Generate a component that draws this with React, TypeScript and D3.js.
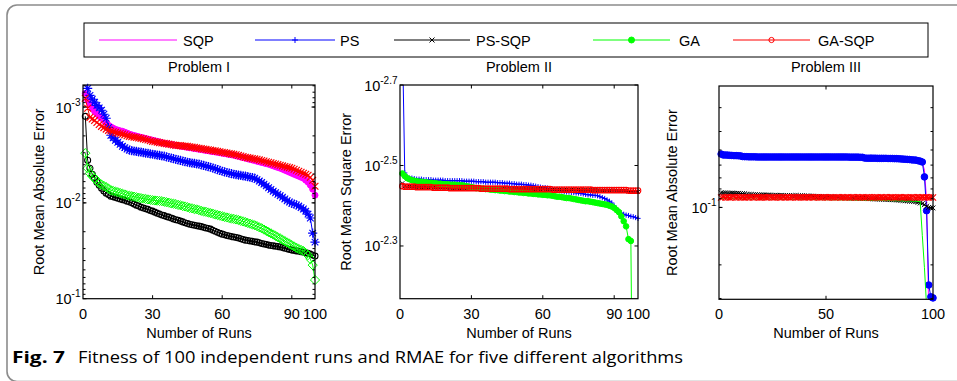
import React from 'react';
import * as d3 from 'd3';

// ---------------- DATA ----------------
const RUNS = d3.range(1, 101);
const ALGOS = ['SQP', 'PS', 'PS-SQP', 'GA', 'GA-SQP'];
const COLORS = ['#ff00ff', '#0000ff', '#000000', '#00ff00', '#ff0000'];
const TITLES = ['Problem I', 'Problem II', 'Problem III'];
const YLABELS = ['Root Mean Absolute Error', 'Root Mean Square Error', 'Root Mean Absolute Error'];
const XLABEL = 'Number of Runs';
const XTICKS_1 = [0, 30, 60, 90, 100];
const XTICKS_2 = [0, 30, 60, 90, 100];
const XTICKS_3 = [0, 50, 100];
const YTICK_EXP_1 = [-3, -2, -1];
const YTICK_EXP_2 = [-2.7, -2.5, -2.3];
const YTICK_EXP_3 = [-1];
const YDOMAIN_EXP_1 = [-3.23, -1];
const YDOMAIN_EXP_2 = [-2.7, -2.169];
const YDOMAIN_3 = [0.0231, 0.303];
const CAPTION_BOLD = 'Fig. 7';
const CAPTION = 'Fitness of 100 independent runs and RMAE for five different algorithms';

// Problem I
const P1_SQP = [7.2e-4,8.5e-4,9.4e-4,1.03e-3,1.11e-3,1.18e-3,1.25e-3,1.31e-3,1.39e-3,1.47e-3,
1.55e-3,1.61e-3,1.66e-3,1.71e-3,1.74e-3,1.77e-3,1.79e-3,1.83e-3,1.87e-3,1.92e-3,
1.95e-3,1.98e-3,2.01e-3,2.04e-3,2.07e-3,2.10e-3,2.13e-3,2.16e-3,2.19e-3,2.22e-3,
2.25e-3,2.28e-3,2.32e-3,2.35e-3,2.39e-3,2.41e-3,2.43e-3,2.46e-3,2.48e-3,2.51e-3,
2.53e-3,2.56e-3,2.58e-3,2.61e-3,2.63e-3,2.66e-3,2.68e-3,2.71e-3,2.73e-3,2.76e-3,
2.78e-3,2.81e-3,2.84e-3,2.86e-3,2.89e-3,2.92e-3,2.94e-3,2.97e-3,3.00e-3,3.03e-3,
3.06e-3,3.09e-3,3.12e-3,3.15e-3,3.18e-3,3.23e-3,3.27e-3,3.32e-3,3.37e-3,3.42e-3,
3.47e-3,3.52e-3,3.57e-3,3.62e-3,3.68e-3,3.73e-3,3.79e-3,3.84e-3,3.90e-3,3.95e-3,
4.03e-3,4.11e-3,4.19e-3,4.27e-3,4.35e-3,4.45e-3,4.56e-3,4.67e-3,4.79e-3,4.91e-3,
5.03e-3,5.15e-3,5.27e-3,5.40e-3,5.53e-3,5.80e-3,6.08e-3,6.54e-3,7.20e-3,8.32e-3];
const P1_PS = [5.66e-4,6.38e-4,7.55e-4,8.3e-4,8.9e-4,9.6e-4,1.02e-3,1.08e-3,1.19e-3,1.31e-3,
1.63e-3,1.97e-3,2.10e-3,2.22e-3,2.33e-3,2.45e-3,2.57e-3,2.65e-3,2.74e-3,2.82e-3,
2.85e-3,2.88e-3,2.90e-3,2.93e-3,2.96e-3,2.99e-3,3.02e-3,3.05e-3,3.08e-3,3.11e-3,
3.14e-3,3.17e-3,3.20e-3,3.23e-3,3.26e-3,3.31e-3,3.36e-3,3.41e-3,3.46e-3,3.51e-3,
3.56e-3,3.61e-3,3.66e-3,3.71e-3,3.77e-3,3.80e-3,3.84e-3,3.88e-3,3.91e-3,3.95e-3,
4.01e-3,4.07e-3,4.13e-3,4.19e-3,4.25e-3,4.33e-3,4.41e-3,4.50e-3,4.59e-3,4.68e-3,
4.75e-3,4.82e-3,4.89e-3,4.96e-3,5.03e-3,5.08e-3,5.13e-3,5.17e-3,5.22e-3,5.27e-3,
5.33e-3,5.40e-3,5.46e-3,5.53e-3,5.72e-3,5.92e-3,6.14e-3,6.38e-3,6.65e-3,6.95e-3,
7.25e-3,7.55e-3,7.84e-3,8.13e-3,8.43e-3,8.73e-3,9.1e-3,9.5e-3,9.8e-3,1.01e-2,
1.03e-2,1.05e-2,1.08e-2,1.12e-2,1.16e-2,1.22e-2,1.31e-2,1.44e-2,2.07e-2,2.57e-2];
const P1_PSSQP = [1.25e-3,3.59e-3,4.35e-3,5.03e-3,5.53e-3,6.08e-3,6.55e-3,7.03e-3,7.5e-3,7.92e-3,
8.2e-3,8.51e-3,8.65e-3,8.8e-3,8.93e-3,9.1e-3,9.25e-3,9.4e-3,9.6e-3,9.8e-3,
1.0e-2,1.03e-2,1.06e-2,1.08e-2,1.11e-2,1.13e-2,1.15e-2,1.17e-2,1.20e-2,1.22e-2,
1.25e-2,1.28e-2,1.31e-2,1.34e-2,1.36e-2,1.39e-2,1.41e-2,1.44e-2,1.47e-2,1.50e-2,
1.52e-2,1.55e-2,1.58e-2,1.61e-2,1.64e-2,1.67e-2,1.69e-2,1.71e-2,1.73e-2,1.75e-2,
1.77e-2,1.80e-2,1.83e-2,1.85e-2,1.88e-2,1.93e-2,1.98e-2,2.03e-2,2.08e-2,2.12e-2,
2.15e-2,2.19e-2,2.22e-2,2.25e-2,2.27e-2,2.30e-2,2.33e-2,2.37e-2,2.41e-2,2.45e-2,
2.47e-2,2.50e-2,2.52e-2,2.55e-2,2.57e-2,2.61e-2,2.65e-2,2.69e-2,2.72e-2,2.76e-2,
2.79e-2,2.81e-2,2.84e-2,2.86e-2,2.89e-2,2.93e-2,2.98e-2,3.02e-2,3.07e-2,3.11e-2,
3.14e-2,3.17e-2,3.20e-2,3.24e-2,3.27e-2,3.31e-2,3.36e-2,3.42e-2,3.50e-2,3.59e-2];
const P1_GA = [3.03e-3,4.35e-3,4.91e-3,5.27e-3,5.53e-3,5.9e-3,6.24e-3,6.45e-3,6.65e-3,6.86e-3,
7.1e-3,7.38e-3,7.5e-3,7.62e-3,7.74e-3,7.88e-3,8.02e-3,8.17e-3,8.32e-3,8.42e-3,
8.52e-3,8.62e-3,8.72e-3,8.83e-3,8.93e-3,9.02e-3,9.11e-3,9.2e-3,9.29e-3,9.38e-3,
9.44e-3,9.49e-3,9.55e-3,9.6e-3,9.72e-3,9.84e-3,9.96e-3,1.01e-2,1.02e-2,1.03e-2,
1.05e-2,1.06e-2,1.08e-2,1.09e-2,1.11e-2,1.13e-2,1.14e-2,1.16e-2,1.17e-2,1.19e-2,
1.21e-2,1.23e-2,1.24e-2,1.26e-2,1.28e-2,1.30e-2,1.32e-2,1.34e-2,1.36e-2,1.38e-2,
1.40e-2,1.42e-2,1.44e-2,1.46e-2,1.47e-2,1.49e-2,1.51e-2,1.54e-2,1.56e-2,1.59e-2,
1.62e-2,1.65e-2,1.68e-2,1.71e-2,1.75e-2,1.80e-2,1.84e-2,1.90e-2,1.96e-2,2.02e-2,
2.08e-2,2.14e-2,2.21e-2,2.28e-2,2.35e-2,2.43e-2,2.51e-2,2.59e-2,2.67e-2,2.76e-2,
2.85e-2,2.94e-2,3.03e-2,3.10e-2,3.18e-2,3.34e-2,3.51e-2,3.86e-2,4.46e-2,6.38e-2];
const P1_GASQP = [8.1e-4,1.03e-3,1.28e-3,1.33e-3,1.38e-3,1.45e-3,1.52e-3,1.59e-3,1.64e-3,1.70e-3,
1.75e-3,1.78e-3,1.81e-3,1.84e-3,1.87e-3,1.89e-3,1.92e-3,1.95e-3,1.99e-3,2.02e-3,
2.04e-3,2.06e-3,2.08e-3,2.10e-3,2.12e-3,2.15e-3,2.18e-3,2.21e-3,2.25e-3,2.28e-3,
2.30e-3,2.32e-3,2.35e-3,2.37e-3,2.39e-3,2.41e-3,2.44e-3,2.46e-3,2.49e-3,2.51e-3,
2.52e-3,2.53e-3,2.55e-3,2.56e-3,2.57e-3,2.60e-3,2.62e-3,2.64e-3,2.67e-3,2.69e-3,
2.72e-3,2.74e-3,2.77e-3,2.79e-3,2.82e-3,2.85e-3,2.87e-3,2.90e-3,2.93e-3,2.96e-3,
2.99e-3,3.02e-3,3.05e-3,3.08e-3,3.11e-3,3.15e-3,3.20e-3,3.24e-3,3.29e-3,3.34e-3,
3.37e-3,3.41e-3,3.44e-3,3.48e-3,3.51e-3,3.56e-3,3.61e-3,3.66e-3,3.72e-3,3.77e-3,
3.82e-3,3.88e-3,3.93e-3,3.99e-3,4.05e-3,4.11e-3,4.17e-3,4.23e-3,4.29e-3,4.35e-3,
4.46e-3,4.57e-3,4.68e-3,4.79e-3,4.91e-3,5.03e-3,5.15e-3,5.40e-3,5.81e-3,6.70e-3];

// Problem II
const P2_SQP = [3.57e-3,3.57e-3,3.57e-3,3.58e-3,3.58e-3,3.58e-3,3.58e-3,3.58e-3,3.58e-3,3.59e-3,
3.59e-3,3.59e-3,3.59e-3,3.59e-3,3.59e-3,3.60e-3,3.60e-3,3.60e-3,3.60e-3,3.60e-3,
3.60e-3,3.60e-3,3.60e-3,3.60e-3,3.61e-3,3.61e-3,3.61e-3,3.61e-3,3.61e-3,3.61e-3,
3.61e-3,3.61e-3,3.61e-3,3.61e-3,3.62e-3,3.62e-3,3.62e-3,3.62e-3,3.62e-3,3.62e-3,
3.62e-3,3.62e-3,3.62e-3,3.62e-3,3.62e-3,3.62e-3,3.63e-3,3.63e-3,3.63e-3,3.63e-3,
3.63e-3,3.63e-3,3.63e-3,3.63e-3,3.63e-3,3.63e-3,3.63e-3,3.63e-3,3.63e-3,3.63e-3,
3.63e-3,3.63e-3,3.63e-3,3.64e-3,3.64e-3,3.64e-3,3.64e-3,3.64e-3,3.64e-3,3.64e-3,
3.64e-3,3.64e-3,3.64e-3,3.64e-3,3.64e-3,3.64e-3,3.64e-3,3.64e-3,3.65e-3,3.65e-3,
3.65e-3,3.65e-3,3.65e-3,3.65e-3,3.65e-3,3.65e-3,3.65e-3,3.65e-3,3.65e-3,3.65e-3,
3.65e-3,3.65e-3,3.66e-3,3.66e-3,3.66e-3,3.66e-3,3.66e-3,3.66e-3,3.66e-3,3.66e-3];
const P2_PS = [1.5e-3,3.30e-3,3.38e-3,3.40e-3,3.40e-3,3.41e-3,3.42e-3,3.42e-3,3.42e-3,3.43e-3,
3.43e-3,3.43e-3,3.43e-3,3.44e-3,3.44e-3,3.44e-3,3.44e-3,3.44e-3,3.45e-3,3.45e-3,
3.45e-3,3.45e-3,3.45e-3,3.45e-3,3.45e-3,3.45e-3,3.46e-3,3.46e-3,3.46e-3,3.46e-3,
3.46e-3,3.47e-3,3.47e-3,3.47e-3,3.47e-3,3.48e-3,3.48e-3,3.48e-3,3.48e-3,3.48e-3,
3.49e-3,3.49e-3,3.49e-3,3.50e-3,3.50e-3,3.50e-3,3.51e-3,3.51e-3,3.52e-3,3.52e-3,
3.52e-3,3.53e-3,3.53e-3,3.54e-3,3.54e-3,3.55e-3,3.56e-3,3.57e-3,3.58e-3,3.59e-3,
3.59e-3,3.60e-3,3.61e-3,3.62e-3,3.63e-3,3.64e-3,3.65e-3,3.66e-3,3.67e-3,3.68e-3,
3.68e-3,3.69e-3,3.69e-3,3.70e-3,3.70e-3,3.71e-3,3.72e-3,3.73e-3,3.74e-3,3.74e-3,
3.75e-3,3.75e-3,3.76e-3,3.78e-3,3.80e-3,3.82e-3,3.85e-3,3.88e-3,3.92e-3,3.99e-3,
4.06e-3,4.12e-3,4.15e-3,4.18e-3,4.20e-3,4.21e-3,4.23e-3,4.24e-3,4.26e-3,4.28e-3];
const P2_PSSQP = [3.50e-3,3.56e-3,3.57e-3,3.57e-3,3.57e-3,3.57e-3,3.58e-3,3.58e-3,3.58e-3,3.58e-3,
3.58e-3,3.58e-3,3.58e-3,3.59e-3,3.59e-3,3.59e-3,3.59e-3,3.59e-3,3.59e-3,3.59e-3,
3.60e-3,3.60e-3,3.60e-3,3.60e-3,3.60e-3,3.60e-3,3.60e-3,3.60e-3,3.60e-3,3.60e-3,
3.60e-3,3.60e-3,3.60e-3,3.61e-3,3.61e-3,3.61e-3,3.61e-3,3.61e-3,3.61e-3,3.61e-3,
3.61e-3,3.61e-3,3.61e-3,3.61e-3,3.61e-3,3.62e-3,3.62e-3,3.62e-3,3.62e-3,3.62e-3,
3.62e-3,3.62e-3,3.62e-3,3.62e-3,3.62e-3,3.62e-3,3.62e-3,3.62e-3,3.62e-3,3.62e-3,
3.63e-3,3.63e-3,3.63e-3,3.63e-3,3.63e-3,3.63e-3,3.63e-3,3.63e-3,3.63e-3,3.63e-3,
3.63e-3,3.63e-3,3.63e-3,3.63e-3,3.63e-3,3.64e-3,3.64e-3,3.64e-3,3.64e-3,3.64e-3,
3.64e-3,3.64e-3,3.64e-3,3.65e-3,3.65e-3,3.65e-3,3.65e-3,3.65e-3,3.65e-3,3.65e-3,
3.66e-3,3.66e-3,3.66e-3,3.66e-3,3.66e-3,3.67e-3,3.67e-3,3.68e-3,3.68e-3,3.68e-3];
const P2_GA = [3.31e-3,3.36e-3,3.40e-3,3.42e-3,3.44e-3,3.45e-3,3.46e-3,3.47e-3,3.47e-3,3.48e-3,
3.48e-3,3.49e-3,3.49e-3,3.50e-3,3.50e-3,3.51e-3,3.51e-3,3.52e-3,3.52e-3,3.52e-3,
3.53e-3,3.53e-3,3.53e-3,3.54e-3,3.54e-3,3.54e-3,3.55e-3,3.56e-3,3.57e-3,3.58e-3,
3.59e-3,3.60e-3,3.60e-3,3.61e-3,3.61e-3,3.62e-3,3.62e-3,3.63e-3,3.63e-3,3.64e-3,
3.64e-3,3.65e-3,3.65e-3,3.66e-3,3.66e-3,3.67e-3,3.67e-3,3.68e-3,3.68e-3,3.69e-3,
3.69e-3,3.70e-3,3.70e-3,3.71e-3,3.71e-3,3.72e-3,3.72e-3,3.73e-3,3.73e-3,3.74e-3,
3.74e-3,3.75e-3,3.75e-3,3.76e-3,3.77e-3,3.78e-3,3.78e-3,3.79e-3,3.80e-3,3.81e-3,
3.81e-3,3.82e-3,3.83e-3,3.84e-3,3.85e-3,3.86e-3,3.87e-3,3.88e-3,3.88e-3,3.89e-3,
3.90e-3,3.91e-3,3.92e-3,3.93e-3,3.94e-3,3.95e-3,3.96e-3,3.98e-3,4.00e-3,4.03e-3,
4.08e-3,4.13e-3,4.23e-3,4.35e-3,4.48e-3,4.82e-3,4.87e-3,2.0e-2,2.2e-2,2.4e-2];
const P2_GASQP = [3.56e-3,3.57e-3,3.57e-3,3.57e-3,3.57e-3,3.57e-3,3.58e-3,3.58e-3,3.58e-3,3.58e-3,
3.58e-3,3.58e-3,3.58e-3,3.59e-3,3.59e-3,3.59e-3,3.59e-3,3.59e-3,3.59e-3,3.59e-3,
3.60e-3,3.60e-3,3.60e-3,3.60e-3,3.60e-3,3.60e-3,3.60e-3,3.60e-3,3.60e-3,3.60e-3,
3.60e-3,3.60e-3,3.60e-3,3.61e-3,3.61e-3,3.61e-3,3.61e-3,3.61e-3,3.61e-3,3.61e-3,
3.61e-3,3.61e-3,3.61e-3,3.61e-3,3.61e-3,3.62e-3,3.62e-3,3.62e-3,3.62e-3,3.62e-3,
3.62e-3,3.62e-3,3.62e-3,3.62e-3,3.62e-3,3.62e-3,3.62e-3,3.62e-3,3.62e-3,3.62e-3,
3.62e-3,3.62e-3,3.62e-3,3.63e-3,3.63e-3,3.63e-3,3.63e-3,3.63e-3,3.63e-3,3.63e-3,
3.63e-3,3.63e-3,3.63e-3,3.63e-3,3.63e-3,3.63e-3,3.63e-3,3.63e-3,3.63e-3,3.63e-3,
3.64e-3,3.64e-3,3.64e-3,3.64e-3,3.64e-3,3.64e-3,3.64e-3,3.64e-3,3.64e-3,3.64e-3,
3.64e-3,3.64e-3,3.64e-3,3.64e-3,3.64e-3,3.65e-3,3.65e-3,3.65e-3,3.65e-3,3.65e-3];

// Problem III
const P3_SQP = [0.0525,0.0531,0.0531,0.0532,0.0533,0.0534,0.0535,0.0535,0.0536,0.0537,
0.0541,0.0542,0.0542,0.0543,0.0543,0.0543,0.0543,0.0544,0.0544,0.0544,
0.0544,0.0544,0.0544,0.0544,0.0544,0.0544,0.0544,0.0544,0.0544,0.0544,
0.0544,0.0544,0.0544,0.0544,0.0544,0.0544,0.0544,0.0544,0.0544,0.0544,
0.0544,0.0544,0.0544,0.0544,0.0544,0.0544,0.0544,0.0544,0.0544,0.0544,
0.0544,0.0544,0.0544,0.0544,0.0544,0.0544,0.0544,0.0544,0.0544,0.0544,
0.0545,0.0545,0.0545,0.0545,0.0545,0.0546,0.0546,0.0551,0.0552,0.0552,
0.0552,0.0552,0.0552,0.0553,0.0553,0.0553,0.0553,0.0553,0.0554,0.0554,
0.0554,0.0555,0.0555,0.0556,0.0557,0.0558,0.0559,0.0560,0.0561,0.0563,
0.0564,0.0565,0.0569,0.0573,0.0580,0.0638,0.0914,0.35,0.36,0.37];
const P3_PS = [0.0525,0.0531,0.0531,0.0532,0.0533,0.0534,0.0535,0.0535,0.0536,0.0537,
0.0541,0.0542,0.0542,0.0543,0.0543,0.0543,0.0543,0.0544,0.0544,0.0544,
0.0544,0.0544,0.0544,0.0544,0.0544,0.0544,0.0544,0.0544,0.0544,0.0544,
0.0544,0.0544,0.0544,0.0544,0.0544,0.0544,0.0544,0.0544,0.0544,0.0544,
0.0544,0.0544,0.0544,0.0544,0.0544,0.0544,0.0544,0.0544,0.0544,0.0544,
0.0544,0.0544,0.0544,0.0544,0.0544,0.0544,0.0544,0.0544,0.0544,0.0544,
0.0545,0.0545,0.0545,0.0545,0.0545,0.0546,0.0546,0.0551,0.0552,0.0552,
0.0552,0.0552,0.0552,0.0553,0.0553,0.0553,0.0553,0.0553,0.0554,0.0554,
0.0554,0.0555,0.0555,0.0556,0.0557,0.0558,0.0559,0.0560,0.0561,0.0563,
0.0564,0.0565,0.0569,0.0572,0.0578,0.0692,0.104,0.255,0.294,0.298];
const P3_PSSQP = [0.0838,0.0840,0.0839,0.0841,0.0842,0.0841,0.0843,0.0844,0.0843,0.0845,
0.0846,0.0848,0.0855,0.0856,0.0856,0.0858,0.0857,0.0859,0.0860,0.0859,
0.0861,0.0862,0.0861,0.0862,0.0864,0.0863,0.0864,0.0865,0.0864,0.0866,
0.0866,0.0867,0.0866,0.0868,0.0868,0.0867,0.0869,0.0870,0.0869,0.0871,
0.0871,0.0872,0.0873,0.0873,0.0875,0.0876,0.0876,0.0878,0.0879,0.0879,
0.0881,0.0882,0.0882,0.0884,0.0885,0.0885,0.0887,0.0888,0.0888,0.0890,
0.0891,0.0891,0.0893,0.0894,0.0894,0.0896,0.0897,0.0897,0.0899,0.0900,
0.0900,0.0902,0.0903,0.0903,0.0905,0.0906,0.0906,0.0908,0.0909,0.0910,
0.0911,0.0912,0.0914,0.0915,0.0918,0.0919,0.0922,0.0923,0.0926,0.0927,
0.0930,0.0933,0.0940,0.0948,0.0955,0.0968,0.0985,0.1000,0.1005,0.1006];
const P3_GA = [0.0898,0.0899,0.0899,0.0900,0.0900,0.0900,0.0901,0.0901,0.0901,0.0902,
0.0902,0.0902,0.0903,0.0903,0.0903,0.0903,0.0904,0.0904,0.0904,0.0904,
0.0905,0.0905,0.0905,0.0905,0.0905,0.0906,0.0906,0.0906,0.0906,0.0906,
0.0907,0.0907,0.0907,0.0907,0.0907,0.0908,0.0908,0.0908,0.0908,0.0908,
0.0909,0.0909,0.0909,0.0909,0.0910,0.0910,0.0910,0.0910,0.0911,0.0911,
0.0911,0.0911,0.0912,0.0912,0.0912,0.0912,0.0913,0.0913,0.0913,0.0913,
0.0914,0.0914,0.0914,0.0915,0.0915,0.0915,0.0916,0.0916,0.0916,0.0917,
0.0917,0.0917,0.0918,0.0918,0.0918,0.0919,0.0919,0.0920,0.0920,0.0921,
0.0921,0.0922,0.0922,0.0923,0.0923,0.0924,0.0925,0.0925,0.0926,0.0927,
0.0928,0.0929,0.0930,0.0932,0.140,0.207,0.330,0.36,0.38,0.40];
const P3_GASQP = [0.0887,0.0883,0.0886,0.0884,0.0888,0.0885,0.0883,0.0887,0.0884,0.0886,
0.0885,0.0888,0.0884,0.0886,0.0883,0.0887,0.0885,0.0884,0.0888,0.0886,
0.0884,0.0887,0.0885,0.0883,0.0886,0.0888,0.0884,0.0885,0.0887,0.0883,
0.0886,0.0884,0.0888,0.0885,0.0883,0.0887,0.0886,0.0884,0.0885,0.0888,
0.0884,0.0886,0.0883,0.0887,0.0885,0.0884,0.0888,0.0886,0.0883,0.0885,
0.0887,0.0884,0.0886,0.0888,0.0885,0.0883,0.0887,0.0884,0.0886,0.0885,
0.0888,0.0884,0.0883,0.0887,0.0885,0.0886,0.0884,0.0888,0.0885,0.0883,
0.0887,0.0886,0.0884,0.0885,0.0888,0.0884,0.0886,0.0883,0.0887,0.0885,
0.0884,0.0888,0.0886,0.0883,0.0885,0.0887,0.0884,0.0886,0.0888,0.0885,
0.0883,0.0887,0.0884,0.0886,0.0885,0.0888,0.0884,0.0886,0.0885,0.0887];

// ---------------- LAYOUT / STYLE ----------------
const W = 957, H = 381;
const FONT = '"Liberation Sans", Arial, Helvetica, sans-serif';
const FS = 14.5;

type Mk = 'none' | 'dot' | 'circle' | 'star' | 'x' | 'plus' | 'diamond';
type S = { values: number[]; marker: Mk; size: number; sw: number };
type P = {
  title: string; ylabel: string; left: number; right: number; top: number; bottom: number;
  yDomain: number[]; yTicks: number[]; yExp: number[]; xTicks: number[]; minor: boolean;
  ylabelX: number; series: S[];
};

const PANELS: P[] = [
  {
    title: TITLES[0], ylabel: YLABELS[0], left: 83, right: 315, top: 85, bottom: 298.7,
    yDomain: YDOMAIN_EXP_1.map(e => Math.pow(10, e)), yTicks: YTICK_EXP_1.map(e => Math.pow(10, e)), yExp: YTICK_EXP_1,
    xTicks: XTICKS_1, minor: true, ylabelX: 43.5,
    series: [
      { values: P1_SQP, marker: 'dot', size: 3, sw: 1 },
      { values: P1_PS, marker: 'star', size: 4.6, sw: 1.1 },
      { values: P1_PSSQP, marker: 'circle', size: 3, sw: 1.1 },
      { values: P1_GA, marker: 'diamond', size: 4.6, sw: 1 },
      { values: P1_GASQP, marker: 'x', size: 3.4, sw: 1.2 },
    ],
  },
  {
    title: TITLES[1], ylabel: YLABELS[1], left: 400, right: 638, top: 85, bottom: 298.7,
    yDomain: YDOMAIN_EXP_2.map(e => Math.pow(10, e)), yTicks: YTICK_EXP_2.map(e => Math.pow(10, e)), yExp: YTICK_EXP_2,
    xTicks: XTICKS_2, minor: false, ylabelX: 350.5,
    series: [
      { values: P2_SQP, marker: 'none', size: 0, sw: 1 },
      { values: P2_PS, marker: 'plus', size: 2.6, sw: 1 },
      { values: P2_PSSQP, marker: 'x', size: 2, sw: 0.9 },
      { values: P2_GA, marker: 'dot', size: 2.8, sw: 1 },
      { values: P2_GASQP, marker: 'circle', size: 2.8, sw: 1.1 },
    ],
  },
  {
    title: TITLES[2], ylabel: YLABELS[2], left: 719, right: 933, top: 86, bottom: 299.3,
    yDomain: YDOMAIN_3, yTicks: YTICK_EXP_3.map(e => Math.pow(10, e)), yExp: YTICK_EXP_3,
    xTicks: XTICKS_3, minor: true, ylabelX: 677,
    series: [
      { values: P3_SQP, marker: 'none', size: 0, sw: 1 },
      { values: P3_PS, marker: 'dot', size: 3.3, sw: 1 },
      { values: P3_PSSQP, marker: 'x', size: 2.4, sw: 1 },
      { values: P3_GA, marker: 'none', size: 0, sw: 1 },
      { values: P3_GASQP, marker: 'x', size: 3.1, sw: 1.1 },
    ],
  },
];

function markerD(m: Mk, x: number, y: number, s: number): string {
  switch (m) {
    case 'plus': return `M${x - s},${y}H${x + s}M${x},${y - s}V${y + s}`;
    case 'x': return `M${x - s},${y - s}L${x + s},${y + s}M${x - s},${y + s}L${x + s},${y - s}`;
    case 'star': {
      const d = s * 0.72;
      return `M${x - s},${y}H${x + s}M${x},${y - s}V${y + s}M${x - d},${y - d}L${x + d},${y + d}M${x - d},${y + d}L${x + d},${y - d}`;
    }
    case 'diamond': return `M${x},${y - s}L${x + s},${y}L${x},${y + s}L${x - s},${y}Z`;
    case 'circle':
    case 'dot': return `M${x + s},${y}A${s},${s} 0 1,1 ${x - s},${y}A${s},${s} 0 1,1 ${x + s},${y}Z`;
    default: return '';
  }
}

function Marker({ m, x, y, s, color }: { m: Mk; x: number; y: number; s: number; color: string }) {
  if (m === 'none') return null;
  return (
    <path d={markerD(m, x, y, s)} fill={m === 'dot' ? color : 'none'} stroke={color} strokeWidth={1} />
  );
}

function Panel({ p, idx }: { p: P; idx: number }) {
  const x = d3.scaleLinear().domain([0, 100]).range([p.left, p.right]);
  const y = d3.scaleLog().domain(p.yDomain).range([p.top, p.bottom]);
  const line = d3.line<number>().x((_, i) => x(RUNS[i])).y(v => y(v));
  const minorTicks = p.minor ? y.ticks().filter(t => y(t) > p.top + 0.5 && y(t) < p.bottom - 0.5) : [];
  const majorTicks = p.yTicks;
  const tl = 3.5;
  const cx = (p.left + p.right) / 2;
  const cy = (p.top + p.bottom) / 2;
  const [lo, hi] = p.yDomain;
  const clipId = `clip${idx}`;
  const inner = p.xTicks.filter(t => t > 0 && t < 100);
  return (
    <g>
      <defs>
        <clipPath id={clipId}>
          <rect x={p.left} y={p.top} width={p.right - p.left} height={p.bottom - p.top} />
        </clipPath>
      </defs>
      <rect x={p.left} y={p.top} width={p.right - p.left} height={p.bottom - p.top} fill="#fff" />
      {p.series.map((s, si) => {
        const color = COLORS[si];
        return (
          <g key={si}>
            <path d={line(s.values) || ''} fill="none" stroke={color} strokeWidth={1} clipPath={`url(#${clipId})`} />
            {s.marker !== 'none' && (
              <path
                d={s.values
                  .map((v, i) => (v >= lo && v <= hi ? markerD(s.marker, x(RUNS[i]), y(v), s.size) : ''))
                  .join('')}
                fill={s.marker === 'dot' ? color : 'none'}
                stroke={color}
                strokeWidth={s.sw}
              />
            )}
          </g>
        );
      })}
      <g stroke="#000" strokeWidth={1}>
        {inner.map(t => (
          <g key={'x' + t}>
            <line x1={x(t)} x2={x(t)} y1={p.bottom} y2={p.bottom - tl} />
            <line x1={x(t)} x2={x(t)} y1={p.top} y2={p.top + tl} />
          </g>
        ))}
        {minorTicks.map((t, i) => (
          <g key={'m' + i}>
            <line x1={p.left} x2={p.left + 2.5} y1={y(t)} y2={y(t)} />
            <line x1={p.right} x2={p.right - 2.5} y1={y(t)} y2={y(t)} />
          </g>
        ))}
        {majorTicks.map((t, i) => (
          <g key={'M' + i}>
            <line x1={p.left} x2={p.left + tl} y1={y(t)} y2={y(t)} />
            <line x1={p.right} x2={p.right - tl} y1={y(t)} y2={y(t)} />
          </g>
        ))}
      </g>
      <rect x={p.left} y={p.top} width={p.right - p.left} height={p.bottom - p.top} fill="none" stroke="#000" strokeWidth={1.2} />
      <g fontFamily={FONT} fill="#000">
        {p.xTicks.map(t => (
          <text key={'xl' + t} x={x(t)} y={319} fontSize={FS} textAnchor="middle">{t}</text>
        ))}
        {majorTicks.map((t, i) => (
          <text key={'yl' + i} x={p.left - 2.5} y={y(t) + 5.5} fontSize={FS} textAnchor="end">
            10<tspan fontSize={10} dy={-7}>{String(p.yExp[i])}</tspan>
          </text>
        ))}
        <text x={cx} y={72} fontSize={FS} textAnchor="middle">{p.title}</text>
        <text x={cx} y={338} fontSize={FS} textAnchor="middle">{XLABEL}</text>
        <text transform={`translate(${p.ylabelX},${cy}) rotate(-90)`} fontSize={FS} textAnchor="middle">{p.ylabel}</text>
      </g>
    </g>
  );
}

const LEG_LINES = [[99, 177], [255, 335], [394, 470], [593, 670], [733, 810]];
const LEG_TEXT_X = [183, 340, 476, 679, 818];
const LEG_MARKERS: Mk[] = ['none', 'plus', 'x', 'dot', 'circle'];
const LEG_MSIZE = [0, 3, 2.5, 3, 2.6];

function Legend() {
  const ly = 40;
  return (
    <g>
      <rect x={84} y={23} width={844} height={34} fill="#fff" stroke="#000" strokeWidth={1} />
      {ALGOS.map((a, i) => {
        const [x1, x2] = LEG_LINES[i];
        return (
          <g key={a}>
            <line x1={x1} x2={x2} y1={ly} y2={ly} stroke={COLORS[i]} strokeWidth={1} />
            <Marker m={LEG_MARKERS[i]} x={(x1 + x2) / 2} y={ly} s={LEG_MSIZE[i]} color={COLORS[i]} />
            <text x={LEG_TEXT_X[i]} y={ly + 5.5} fontFamily={FONT} fontSize={FS} fill="#000">{a}</text>
          </g>
        );
      })}
    </g>
  );
}

export default function App() {
  return (
    <svg width={W} height={H} viewBox={`0 0 ${W} ${H}`}
      style={{ position: 'absolute', left: 0, top: 0, background: '#fff', display: 'block' }}>
      <rect x={0} y={0} width={W} height={H} fill="#fff" />
      <path d={`M${W + 20},5H17A10,10 0 0 0 7,15V371.5A10,10 0 0 0 17,381.5H${W + 20}`} fill="none" stroke="#8c8c8c" strokeWidth={1.6} />
      <Legend />
      {PANELS.map((p, i) => <Panel key={i} p={p} idx={i} />)}
      <text x={12} y={363} fontFamily='"Open Sans", "Noto Sans", sans-serif' fontWeight={700} fontSize={16}
        textLength={53} lengthAdjust="spacingAndGlyphs">{CAPTION_BOLD}</text>
      <text x={78} y={363} fontFamily='"Open Sans", "Noto Sans", sans-serif' fontSize={16}
        textLength={605} lengthAdjust="spacingAndGlyphs">{CAPTION}</text>
    </svg>
  );
}
